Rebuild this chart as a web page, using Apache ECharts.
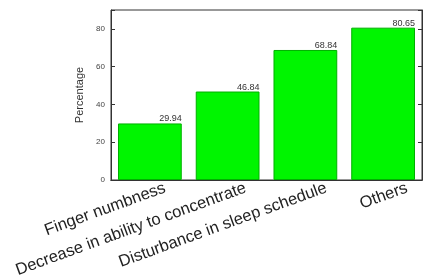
<!DOCTYPE html>
<html>
<head>
<meta charset="utf-8">
<script src="https://cdn.jsdelivr.net/npm/echarts@6/dist/echarts.min.js"></script>
<style>
  html, body { margin: 0; padding: 0; background: #fff; }
  #chart { width: 423px; height: 280px; }
</style>
</head>
<body>
<div id="chart"></div>
<script>
// symptoms and their share (%)
const categories = ['Finger numbness', 'Decrease in ability to concentrate', 'Disturbance in sleep schedule', 'Others'];
const percentages = [29.94, 46.84, 68.84, 80.65];
const yTicks = [0, 20, 40, 60, 80];

const font = 'Liberation Sans, Arial, sans-serif';
const frame = '#333';

let myChart = echarts.init(document.getElementById('chart'));
let option = {
  backgroundColor: '#fff',
  animation: false,
  grid: [
    { left: 111, right: 1, top: 10, bottom: 100, show: true, borderColor: frame, borderWidth: 1 },
    // label-only grid: rotated labels end a bit right of each bar centre, like the original
    { left: 165, right: 16, top: 10, bottom: 100, show: false }
  ],
  xAxis: [
    {
      type: 'category', data: categories, gridIndex: 0,
      axisLine: { lineStyle: { color: frame } },
      axisTick: { inside: true, alignWithLabel: true, length: 4, lineStyle: { color: frame } },
      axisLabel: { show: false }
    },
    {
      type: 'category', data: categories, gridIndex: 0, position: 'top',
      axisLine: { lineStyle: { color: frame } },
      axisTick: { inside: true, alignWithLabel: true, length: 4, lineStyle: { color: frame } },
      axisLabel: { show: false }
    },
    {
      type: 'category', data: categories, gridIndex: 1, boundaryGap: false,
      axisLine: { show: false },
      axisTick: { show: false },
      axisLabel: { rotate: 20, margin: 9, fontSize: 16.5, color: '#222', fontFamily: font, interval: 0 }
    }
  ],
  yAxis: [
    {
      type: 'value', gridIndex: 0, min: 0, max: 90, interval: 20,
      name: 'Percentage', nameLocation: 'middle', nameGap: 22,
      nameTextStyle: { fontSize: 11, color: '#333', fontFamily: font },
      axisLine: { show: true, lineStyle: { color: frame } },
      axisTick: { show: true, inside: true, length: 4, lineStyle: { color: frame } },
      axisLabel: {
        fontSize: 8, color: '#444', fontFamily: font, margin: 6,
        formatter: v => yTicks.includes(v) ? String(v) : ''
      },
      splitLine: { show: false }
    },
    {
      type: 'value', gridIndex: 0, min: 0, max: 90, interval: 20, position: 'right',
      axisLine: { show: true, lineStyle: { color: frame } },
      axisTick: { show: true, inside: true, length: 4, lineStyle: { color: frame } },
      axisLabel: { show: false },
      splitLine: { show: false }
    },
    { type: 'value', gridIndex: 1, min: 0, max: 90, show: false }
  ],
  series: [
    {
      type: 'bar',
      xAxisIndex: 0,
      yAxisIndex: 0,
      data: percentages,
      barCategoryGap: '18%',
      itemStyle: { color: '#00f500', borderColor: '#00b000', borderWidth: 1 },
      label: {
        show: true,
        position: ['100%', 0],
        align: 'right',
        verticalAlign: 'bottom',
        distance: 0,
        fontSize: 9,
        color: '#333',
        fontFamily: font,
        formatter: p => p.value.toFixed(2)
      }
    }
  ]
};
myChart.setOption(option);
</script>
</body>
</html>
